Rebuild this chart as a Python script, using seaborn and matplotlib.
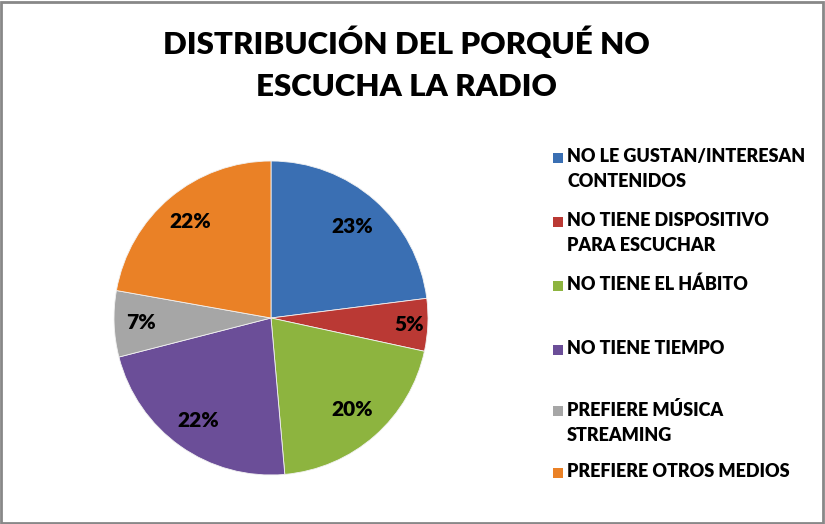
import numpy as np
import matplotlib
matplotlib.use('Agg')
import matplotlib.pyplot as plt
from matplotlib.patches import Rectangle
import seaborn as sns

categories = ['NO LE GUSTAN/INTERESAN\nCONTENIDOS',
              'NO TIENE DISPOSITIVO\nPARA ESCUCHAR',
              'NO TIENE EL HÁBITO',
              'NO TIENE TIEMPO',
              'PREFIERE MÚSICA\nSTREAMING',
              'PREFIERE OTROS MEDIOS']
shares = [23.0, 5.4, 20.2, 22.4, 6.8, 22.2]
colors = ['#3A6FB3', '#BA3934', '#8DB43F', '#6B4E98', '#A6A6A6', '#EA8126']
title = 'DISTRIBUCIÓN DEL PORQUÉ NO\nESCUCHA LA RADIO'

sns.set_theme(style='white')
plt.rcParams['font.family'] = ['Lato', 'DejaVu Sans']

W, H = 825, 524
fig = plt.figure(figsize=(W / 100, H / 100), dpi=100)
fig.patch.set_facecolor('white')

# pie centre (271, 318) px, radius 157 px
cx, cy, r = 271, 318, 157
ax = fig.add_axes([(cx - r) / W, (H - cy - r) / H, 2 * r / W, 2 * r / H])
wedges, _ = ax.pie(shares, colors=colors, startangle=90, counterclock=False,
                   radius=1, wedgeprops=dict(edgecolor='#f2f2f2', linewidth=0.6))
ax.set_xlim(-1, 1)
ax.set_ylim(-1, 1)
ax.set_aspect('equal')
ax.axis('off')

total = sum(shares)
label_dist = [0.78, 0.88, 0.78, 0.80, 0.83, 0.80]
for w, v, d in zip(wedges, shares, label_dist):
    ang = np.deg2rad((w.theta1 + w.theta2) / 2)
    ax.text(d * np.cos(ang), d * np.sin(ang), f'{v / total * 100:.0f}%',
            ha='center', va='center', fontsize=15, fontweight='heavy', color='black')

fig.text(406 / W, 1 - 64 / H, title, ha='center', va='center',
         fontsize=22.5, fontweight='heavy', color='black', linespacing=1.6)

# legend drawn by hand so the marker sits on the first line of each label
ys = [158, 222, 286, 350, 411, 473]
for lab, col, y in zip(categories, colors, ys):
    fig.patches.append(Rectangle((553 / W, 1 - (y + 5) / H), 10 / W, 10 / H,
                                 transform=fig.transFigure, facecolor=col,
                                 edgecolor='none'))
    fig.text(567 / W, 1 - (y - 10) / H, lab, ha='left', va='top',
             fontsize=13, fontweight='heavy', color='black', linespacing=1.6)

fig.patches.append(Rectangle((0.001, 0.002), 0.996, 0.995, transform=fig.transFigure,
                             facecolor='none', edgecolor='#888888', linewidth=2))

fig.savefig('out.png', dpi=100)
